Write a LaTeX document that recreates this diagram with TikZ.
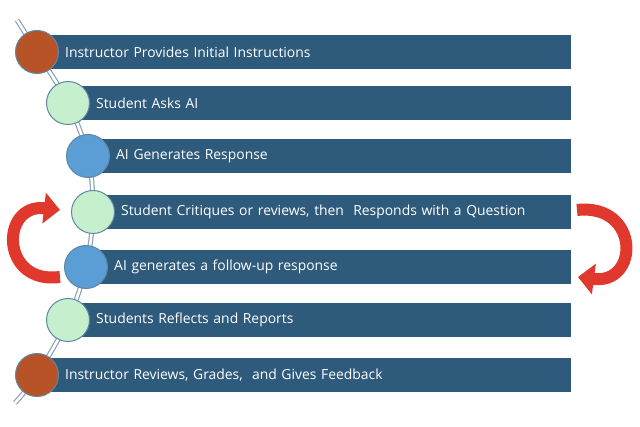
\documentclass[tikz,border=0pt]{standalone}
\usepackage{fontspec}
\setmainfont{Open Sans}
\usetikzlibrary{arrows.meta, positioning, backgrounds}
\definecolor{barblue}{RGB}{46,90,124}
\definecolor{rustorange}{RGB}{184,83,40}
\definecolor{mintgreen}{RGB}{198,239,206}
\definecolor{skyblue}{RGB}{91,157,213}
\definecolor{ringgray}{RGB}{95,135,165}
\definecolor{spinegray}{RGB}{140,162,182}
\definecolor{loopred}{RGB}{224,56,44}

\begin{document}
\begin{tikzpicture}[
        x=1pt, y=1pt,
        step circle/.style={circle, draw=ringgray, line width=1pt, minimum size=43pt, inner sep=0pt},
        bar/.style={rectangle, fill=barblue, anchor=west, minimum height=34pt, inner ysep=0pt, inner xsep=28pt, align=left, text=white, font=\fontsize{13.9}{15}\selectfont},
        spine/.style={draw=spinegray, line width=1.2pt, double=white, double distance=2.6pt},
        loop arrow/.style={draw=loopred, line width=12pt, -{Triangle[length=16pt, width=30pt]}}
    ]
        \useasboundingbox (0,0) rectangle (640,-427);

        % circles along the spine
        \node[step circle, fill=rustorange] (instr) at (37,-52) {};
        \node[step circle, fill=mintgreen] (ask) at (68,-103) {};
        \node[step circle, fill=skyblue] (gen) at (88,-156) {};
        \node[step circle, fill=mintgreen] (critique) at (93,-212) {};
        \node[step circle, fill=skyblue] (followup) at (86,-267) {};
        \node[step circle, fill=mintgreen] (reflect) at (68,-320) {};
        \node[step circle, fill=rustorange] (review) at (37,-375) {};

        \coordinate (spinetop) at (17,-20);
        \coordinate (spinebottom) at (15,-403);

        \begin{scope}[on background layer]
            \draw[spine] plot[smooth, tension=0.55] coordinates {(spinetop) (instr.center) (ask.center) (gen.center) (critique.center) (followup.center) (reflect.center) (review.center) (spinebottom)};

            \node[bar, text width=478pt] (instrbar) at (instr.center) {Instructor Provides Initial Instructions};
            \node[bar, text width=447pt] (askbar) at (ask.center) {Student Asks AI};
            \node[bar, text width=427pt] (genbar) at (gen.center) {AI Generates Response};
            \node[bar, text width=422pt] (critiquebar) at (critique.center) {Student Critiques or reviews, then\ \ Responds with a Question};
            \node[bar, text width=429pt] (followupbar) at (followup.center) {AI generates a follow-up response};
            \node[bar, text width=447pt] (reflectbar) at (reflect.center) {Students Reflects and Reports};
            \node[bar, text width=478pt] (reviewbar) at (review.center) {Instructor Reviews, Grades,\ \ and Gives Feedback};
        \end{scope}

        % feedback loop arrows
        \coordinate (lefttail) at (60,-277);
        \coordinate (lefttip) at (60,-210);
        \coordinate (righttail) at (577,-210);
        \coordinate (righttip) at (578,-277);

        \draw[loop arrow] (lefttail) .. controls (0,-285) and (0,-203) .. (lefttip);
        \draw[loop arrow] (righttail) .. controls (640,-203) and (640,-285) .. (righttip);
    \end{tikzpicture}
\end{document}
